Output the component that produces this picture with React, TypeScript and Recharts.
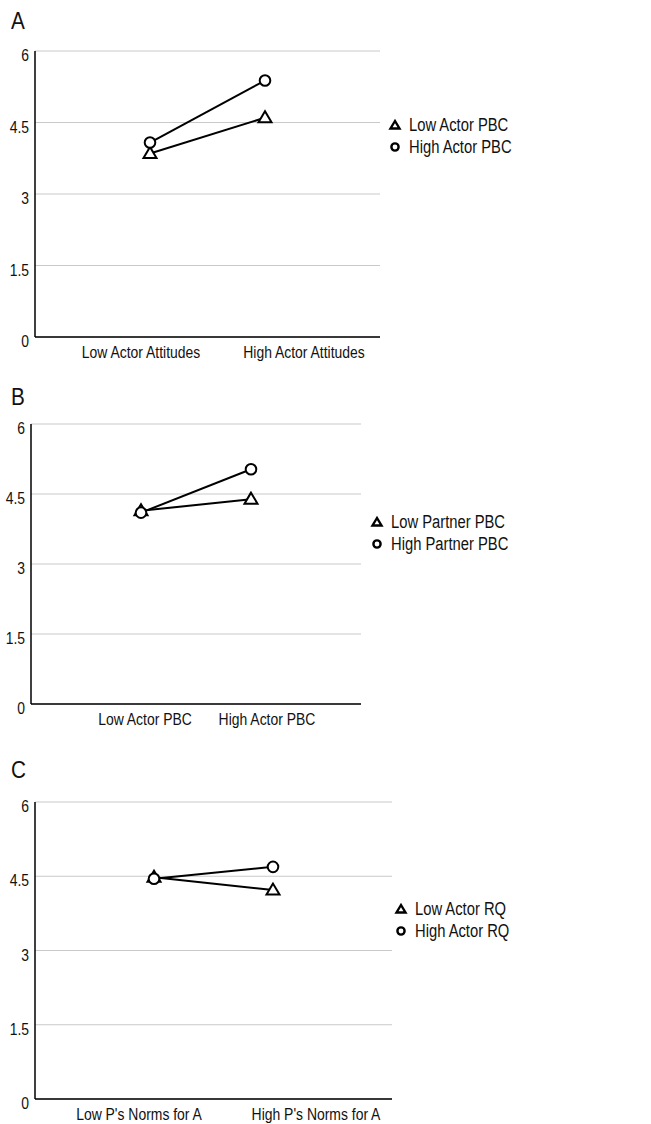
import React from 'react';
import {
  LineChart,
  Line,
  XAxis,
  YAxis,
  CartesianGrid,
  Legend,
} from 'recharts';

const yTicks = [0, 1.5, 3, 4.5, 6];

const aCategories = ['Low Actor Attitudes', 'High Actor Attitudes'];
const aSeries = ['Low Actor PBC', 'High Actor PBC'];
const aLow = [3.85, 4.6];
const aHigh = [4.08, 5.38];

const bCategories = ['Low Actor PBC', 'High Actor PBC'];
const bSeries = ['Low Partner PBC', 'High Partner PBC'];
const bLow = [4.14, 4.39];
const bHigh = [4.1, 5.03];

const cCategories = ["Low P's Norms for A", "High P's Norms for A"];
const cSeries = ['Low Actor RQ', 'High Actor RQ'];
const cLow = [4.48, 4.22];
const cHigh = [4.45, 4.69];

const FONT = '"Liberation Sans", Arial, Helvetica, sans-serif';
// the source font is a narrow Helvetica; squeeze Liberation Sans to match
const NARROW = 0.82;

const TriangleDot = (props: any) => {
  const { cx, cy } = props;
  if (cx == null || cy == null) return null;
  return (
    <polygon
      points={`${cx},${cy - 6.5} ${cx - 6.5},${cy + 4.5} ${cx + 6.5},${cy + 4.5}`}
      fill="#fff"
      stroke="#000"
      strokeWidth={2}
    />
  );
};

const CircleDot = (props: any) => {
  const { cx, cy } = props;
  if (cx == null || cy == null) return null;
  return <circle cx={cx} cy={cy} r={5.3} fill="#fff" stroke="#000" strokeWidth={2} />;
};

const YTick = (props: any) => {
  const { x, y, payload } = props;
  return (
    <text
      transform={`translate(${x + 2},${y + 10}) scale(${NARROW},1)`}
      textAnchor="end"
      fontSize={17}
      fill="#111"
      fontFamily={FONT}
    >
      {payload.value}
    </text>
  );
};

const makeXTick = (shifts: number[]) => (props: any) => {
  const { x, y, payload, index } = props;
  return (
    <text
      transform={`translate(${x + shifts[index]},${y + 13}) scale(${NARROW},1)`}
      textAnchor="middle"
      fontSize={17}
      fill="#111"
      fontFamily={FONT}
    >
      {payload.value}
    </text>
  );
};

const LegendBox = ({ names }: { names: string[] }) => (
  <div style={{ fontFamily: FONT, fontSize: 18, color: '#111' }}>
    {names.map((n, i) => (
      <div key={n} style={{ display: 'flex', alignItems: 'center', height: 22 }}>
        <svg width={16} height={14}>
          {i === 0 ? (
            <polygon points="8,3 3.5,10.5 12.5,10.5" fill="#fff" stroke="#000" strokeWidth={2.4} />
          ) : (
            <circle cx={8} cy={7} r={3.6} fill="#fff" stroke="#000" strokeWidth={2.4} />
          )}
        </svg>
        <span
          style={{
            marginLeft: 6,
            whiteSpace: 'nowrap',
            display: 'inline-block',
            transform: `scaleX(${NARROW})`,
            transformOrigin: 'left center',
          }}
        >
          {n}
        </span>
      </div>
    ))}
  </div>
);

interface PanelProps {
  letter: string;
  top: number;
  height: number;
  plotTop: number;
  plotBottom: number;
  plotLeft: number;
  plotRight: number;
  categories: string[];
  series: string[];
  low: number[];
  high: number[];
  tickShift: number[];
  legendLeft: number;
  legendTop: number;
  letterTop: number;
}

const Panel = (p: PanelProps) => {
  const data = p.categories.map((c, i) => ({ name: c, low: p.low[i], high: p.high[i] }));
  const plotWidth = p.plotRight - p.plotLeft;
  const pad = plotWidth / 3;
  const xAxisHeight = 20;
  return (
    <div style={{ position: 'absolute', left: 0, top: p.top, width: 651, height: p.height }}>
      <div
        style={{
          position: 'absolute',
          left: 11,
          top: p.letterTop,
          fontFamily: FONT,
          fontSize: 23,
          color: '#111',
          lineHeight: 1,
          transform: `scaleX(0.9)`,
          transformOrigin: 'left center',
        }}
      >
        {p.letter}
      </div>
      <LineChart
        width={651}
        height={p.height}
        data={data}
        margin={{
          top: p.plotTop,
          right: 651 - p.plotRight,
          left: 0,
          bottom: p.height - p.plotBottom - xAxisHeight,
        }}
      >
        <CartesianGrid vertical={false} stroke="#c9c9c9" strokeWidth={1} />
        <XAxis
          dataKey="name"
          height={xAxisHeight}
          padding={{ left: pad, right: pad }}
          axisLine={{ stroke: '#000', strokeWidth: 1.5 }}
          tickLine={false}
          tick={makeXTick(p.tickShift)}
          interval={0}
        />
        <YAxis
          width={p.plotLeft}
          domain={[0, 6]}
          ticks={yTicks}
          axisLine={{ stroke: '#000', strokeWidth: 1.5 }}
          tickLine={false}
          tick={<YTick />}
        />
        <Legend
          layout="horizontal"
          align="center"
          verticalAlign="middle"
          wrapperStyle={{ left: p.legendLeft, top: p.legendTop, width: 260 }}
          content={() => <LegendBox names={p.series} />}
        />
        <Line
          dataKey="low"
          name={p.series[0]}
          stroke="#000"
          strokeWidth={2}
          dot={<TriangleDot />}
          activeDot={false}
          isAnimationActive={false}
        />
        <Line
          dataKey="high"
          name={p.series[1]}
          stroke="#000"
          strokeWidth={2}
          dot={<CircleDot />}
          activeDot={false}
          isAnimationActive={false}
        />
      </LineChart>
    </div>
  );
};

export default function App() {
  return (
    <div style={{ position: 'absolute', left: 0, top: 0, width: 651, height: 1124, background: '#fff' }}>
      <Panel
        letter="A"
        top={0}
        height={370}
        letterTop={10}
        plotTop={51}
        plotBottom={337}
        plotLeft={35}
        plotRight={380}
        categories={aCategories}
        series={aSeries}
        low={aLow}
        high={aHigh}
        tickShift={[-9, 39]}
        legendLeft={387}
        legendTop={114}
      />
      <Panel
        letter="B"
        top={380}
        height={360}
        letterTop={6}
        plotTop={44}
        plotBottom={324}
        plotLeft={31}
        plotRight={361}
        categories={bCategories}
        series={bSeries}
        low={bLow}
        high={bHigh}
        tickShift={[4, 16]}
        legendLeft={369}
        legendTop={131}
      />
      <Panel
        letter="C"
        top={740}
        height={384}
        letterTop={19}
        plotTop={62}
        plotBottom={359}
        plotLeft={35}
        plotRight={392}
        categories={cCategories}
        series={cSeries}
        low={cLow}
        high={cHigh}
        tickShift={[-15, 43]}
        legendLeft={393}
        legendTop={158}
      />
    </div>
  );
}
